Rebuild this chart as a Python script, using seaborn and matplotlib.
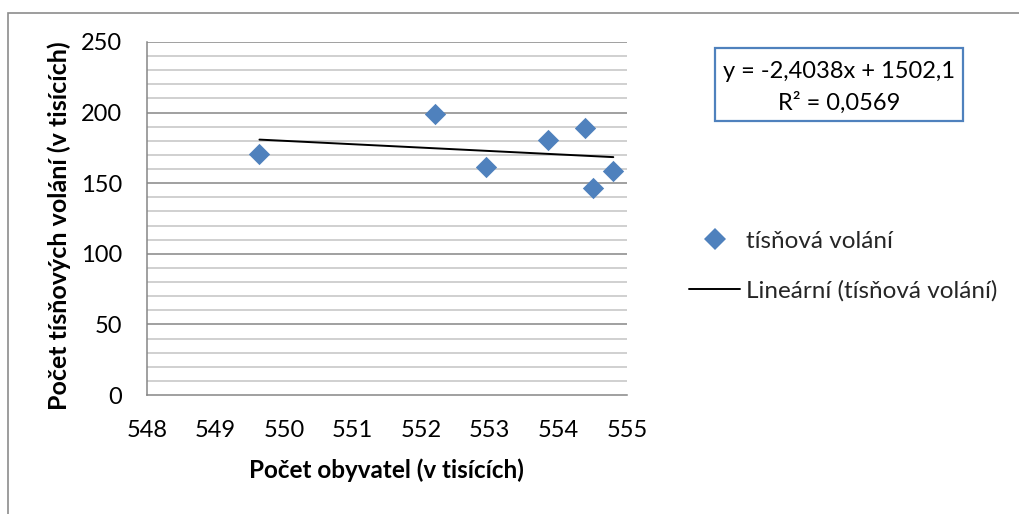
import matplotlib
matplotlib.use("Agg")
import matplotlib.pyplot as plt
import seaborn as sns
import numpy as np
import pandas as pd
from matplotlib.patches import Rectangle
from matplotlib.lines import Line2D

# ---- data ----
population = [549.64, 552.20, 552.94, 553.85, 554.39, 554.51, 554.80]   # Počet obyvatelů (tis.)
calls = [170.5, 198.8, 161.6, 180.4, 188.9, 146.7, 158.3]               # tísňová volání (tis.)
trend_slope = -2.4038
trend_intercept = 1502.1
r_squared = 0.0569
x_ticks = [548, 549, 550, 551, 552, 553, 554, 555]
y_ticks = [0, 50, 100, 150, 200, 250]
series_label = "tísňová volání"
trend_label = "Lineární (tísňová volání)"
x_label = "Počet obyvatel (v tisících)"
y_label = "Počet tísňových volání (v tisících)"

df = pd.DataFrame({"x": population, "y": calls})

sns.set_theme(style="white")
plt.rcParams["font.family"] = ["Lato", "DejaVu Sans"]

W, H = 1019, 514
fig = plt.figure(figsize=(W / 100, H / 100), dpi=100)
fig.patch.set_facecolor("white")

def fx(px):
    return px / W

def fy(py):
    return 1 - py / H

# outer chart border (cropped at right/bottom)
fig.add_artist(Rectangle((fx(8), fy(600)), fx(1200), fy(13) - fy(600),
                         transform=fig.transFigure, fill=False,
                         edgecolor="#8c8c8c", linewidth=1.2))

ax = fig.add_axes([fx(147), fy(395), fx(627) - fx(147), fy(42) - fy(395)])

major_c = "#868686"
minor_c = "#c4c4c4"

# minor gridlines every 10, major every 50
for v in np.arange(0, 251, 10):
    if v % 50 == 0:
        continue
    ax.axhline(v, color=minor_c, linewidth=1.1, zorder=0)
for v in y_ticks[1:]:
    ax.axhline(v, color=major_c, linewidth=1.1, zorder=0)

# trend line
xs = np.array([min(population), max(population)])
ax.plot(xs, trend_slope * xs + trend_intercept, color="black", linewidth=1.4, zorder=2)

sns.scatterplot(data=df, x="x", y="y", marker="D", s=118, color="#4f81bd",
                linewidth=0, ax=ax, zorder=3, legend=False)

ax.set_xlim(548, 555)
ax.set_ylim(0, 250)
ax.set_xticks(x_ticks)
ax.set_yticks(y_ticks)
ax.set_xticklabels([str(t) for t in x_ticks])
ax.set_yticklabels([str(t) for t in y_ticks])

for s in ["top", "right"]:
    ax.spines[s].set_visible(False)
for s in ["left", "bottom"]:
    ax.spines[s].set_color(major_c)
    ax.spines[s].set_linewidth(1.1)

ax.tick_params(axis="both", which="major", direction="out", length=6, width=1.1,
               color=major_c, labelsize=17, labelcolor="black")
ax.tick_params(axis="y", pad=12)
ax.tick_params(axis="x", pad=12)

ax.set_xlabel("")
ax.set_ylabel("")
fig.text(fx(386), fy(478), x_label, ha="center", va="baseline",
         fontsize=17.5, fontweight="bold", color="black")
fig.text(fx(59), fy(226), y_label, ha="center", va="center", rotation=90,
         fontsize=18, fontweight="bold", color="black")

# equation box
fig.add_artist(Rectangle((fx(715), fy(121)), fx(963) - fx(715), fy(48) - fy(121),
                         transform=fig.transFigure, fill=True, facecolor="white",
                         edgecolor="#4f81bd", linewidth=1.6))
eq1 = "y = {:.4f}x + {:.1f}".format(trend_slope, trend_intercept).replace(".", ",")
eq2 = "R² = {:.4f}".format(r_squared).replace(".", ",")
fig.text(fx(839), fy(72), eq1, ha="center", va="center", fontsize=17, color="black")
fig.text(fx(839), fy(103), eq2, ha="center", va="center", fontsize=17, color="black")

# legend
handles = [
    Line2D([], [], linestyle="none", marker="D", markersize=10.8,
           markerfacecolor="#4f81bd", markeredgewidth=0),
    Line2D([], [], color="black", linewidth=1.4),
]
fs = 17.5
fs_px = fs * 100 / 72
fig.legend(handles, [series_label, trend_label], loc="center left",
           bbox_to_anchor=(fx(689), fy(266)), frameon=False, fontsize=fs,
           borderpad=0, borderaxespad=0, handlelength=51 / fs_px,
           handletextpad=6 / fs_px, labelspacing=1.15)

fig.savefig("out.png", dpi=100, facecolor="white")
